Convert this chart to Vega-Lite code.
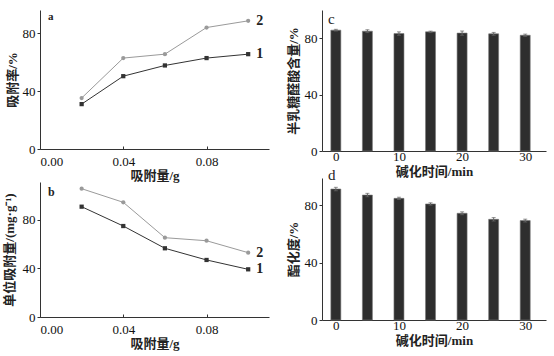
{
  "$schema": "https://vega.github.io/schema/vega-lite/v6.json",
  "padding": {"left": 3, "top": 10, "right": 5, "bottom": 2},
  "background": "white",
  "config": {
    "view": {"stroke": null},
    "font": "Liberation Serif",
    "axis": {
      "grid": false,
      "domainColor": "#333",
      "tickColor": "#333",
      "tickSize": 3,
      "labelFont": "Liberation Serif",
      "labelFontSize": 13,
      "labelColor": "#111",
      "labelPadding": 2,
      "titleFont": "Liberation Serif, Noto Sans CJK SC",
      "titleFontSize": 13,
      "titleFontWeight": "bold",
      "titleColor": "#222"
    },
    "title": {"font": "Liberation Serif", "fontWeight": "bold", "color": "#222", "anchor": "start", "frame": "group"}
  },
  "datasets": {
    "lines": [
      {"panel": "a", "series": "1", "x": 0.02, "y": 31.0},
      {"panel": "a", "series": "1", "x": 0.04, "y": 50.3},
      {"panel": "a", "series": "1", "x": 0.06, "y": 57.7},
      {"panel": "a", "series": "1", "x": 0.08, "y": 62.8},
      {"panel": "a", "series": "1", "x": 0.10, "y": 65.5},
      {"panel": "a", "series": "2", "x": 0.02, "y": 35.2},
      {"panel": "a", "series": "2", "x": 0.04, "y": 62.8},
      {"panel": "a", "series": "2", "x": 0.06, "y": 65.5},
      {"panel": "a", "series": "2", "x": 0.08, "y": 83.9},
      {"panel": "a", "series": "2", "x": 0.10, "y": 88.5},
      {"panel": "b", "series": "1", "x": 0.02, "y": 90.7},
      {"panel": "b", "series": "1", "x": 0.04, "y": 74.8},
      {"panel": "b", "series": "1", "x": 0.06, "y": 56.5},
      {"panel": "b", "series": "1", "x": 0.08, "y": 46.9},
      {"panel": "b", "series": "1", "x": 0.10, "y": 39.2},
      {"panel": "b", "series": "2", "x": 0.02, "y": 105.5},
      {"panel": "b", "series": "2", "x": 0.04, "y": 94.3},
      {"panel": "b", "series": "2", "x": 0.06, "y": 65.2},
      {"panel": "b", "series": "2", "x": 0.08, "y": 62.7},
      {"panel": "b", "series": "2", "x": 0.10, "y": 52.9}
    ],
    "bars": [
      {"panel": "c", "t": 0, "v": 85.7, "err": 0.6},
      {"panel": "c", "t": 5, "v": 85.0, "err": 1.0},
      {"panel": "c", "t": 10, "v": 83.3, "err": 1.2},
      {"panel": "c", "t": 15, "v": 84.5, "err": 0.5},
      {"panel": "c", "t": 20, "v": 83.6, "err": 1.5},
      {"panel": "c", "t": 25, "v": 83.1, "err": 1.0},
      {"panel": "c", "t": 30, "v": 82.1, "err": 0.8},
      {"panel": "d", "t": 0, "v": 91.3, "err": 1.2},
      {"panel": "d", "t": 5, "v": 87.1, "err": 1.2},
      {"panel": "d", "t": 10, "v": 84.8, "err": 0.8},
      {"panel": "d", "t": 15, "v": 80.9, "err": 0.8},
      {"panel": "d", "t": 20, "v": 74.4, "err": 1.0},
      {"panel": "d", "t": 25, "v": 70.2, "err": 1.2},
      {"panel": "d", "t": 30, "v": 69.3, "err": 1.0}
    ]
  },
  "spacing": 18,
  "hconcat": [
    {
      "spacing": -2,
      "vconcat": [
        {
          "width": 229, "height": 139,
          "title": {"text": "a", "fontSize": 11, "offset": -12, "dx": 8},
          "data": {"name": "lines"},
          "transform": [{"filter": "datum.panel === 'a'"}],
          "encoding": {
            "x": {"field": "x", "type": "quantitative", "scale": {"domain": [0, 0.11], "nice": false},
                  "axis": {"values": [0, 0.04, 0.08], "format": ".2f", "title": "吸附量/g", "tickSize": -3, "labelPadding": 9, "titlePadding": 1}},
            "y": {"field": "y", "type": "quantitative", "scale": {"domain": [0, 96], "nice": false},
                  "axis": {"values": [0, 40, 80], "title": "吸附率/%", "titlePadding": 3}},
            "color": {"field": "series", "type": "nominal", "scale": {"domain": ["1", "2"], "range": ["#333333", "#9a9a9a"]}, "legend": null}
          },
          "layer": [
            {"mark": {"type": "line", "strokeWidth": 1}},
            {"mark": {"type": "point", "filled": true, "opacity": 1, "size": 18},
             "encoding": {"shape": {"field": "series", "type": "nominal", "scale": {"domain": ["1", "2"], "range": ["square", "circle"]}, "legend": null}}},
            {"transform": [{"filter": "datum.x === 0.1"}],
             "mark": {"type": "text", "align": "left", "dx": 8, "fontSize": 14, "fontWeight": "bold", "font": "Liberation Serif", "color": "#222"},
             "encoding": {"text": {"field": "series"}, "color": {"value": "#222"}}}
          ]
        },
        {
          "width": 229, "height": 135,
          "title": {"text": "b", "fontSize": 12, "offset": -17, "dx": 8},
          "data": {"name": "lines"},
          "transform": [{"filter": "datum.panel === 'b'"}],
          "encoding": {
            "x": {"field": "x", "type": "quantitative", "scale": {"domain": [0, 0.11], "nice": false},
                  "axis": {"values": [0, 0.04, 0.08], "format": ".2f", "title": "吸附量/g", "tickSize": -3, "labelPadding": 9, "titlePadding": 1}},
            "y": {"field": "y", "type": "quantitative", "scale": {"domain": [0, 111], "nice": false},
                  "axis": {"values": [0, 40, 80], "title": "单位吸附量/(mg·g⁻¹)", "titlePadding": 6}},
            "color": {"field": "series", "type": "nominal", "scale": {"domain": ["1", "2"], "range": ["#333333", "#9a9a9a"]}, "legend": null}
          },
          "layer": [
            {"mark": {"type": "line", "strokeWidth": 1}},
            {"mark": {"type": "point", "filled": true, "opacity": 1, "size": 18},
             "encoding": {"shape": {"field": "series", "type": "nominal", "scale": {"domain": ["1", "2"], "range": ["square", "circle"]}, "legend": null}}},
            {"transform": [{"filter": "datum.x === 0.1"}],
             "mark": {"type": "text", "align": "left", "dx": 8, "fontSize": 14, "fontWeight": "bold", "font": "Liberation Serif", "color": "#222"},
             "encoding": {"text": {"field": "series"}, "color": {"value": "#222"}}}
          ]
        }
      ]
    },
    {
      "spacing": -14,
      "vconcat": [
        {
          "width": 224, "height": 141,
          "title": {"text": "c", "fontSize": 15, "fontWeight": "normal", "offset": -17, "dx": 6},
          "data": {"name": "bars"},
          "transform": [{"filter": "datum.panel === 'c'"}],
          "encoding": {
            "x": {"field": "t", "type": "quantitative", "scale": {"domain": [-1.4, 32.5], "nice": false, "zero": false},
                  "axis": {"values": [0, 10, 20, 30], "title": "碱化时间/min", "tickSize": -3, "labelPadding": 2, "titlePadding": 2}},
            "y": {"field": "v", "type": "quantitative", "scale": {"domain": [0, 100], "nice": false},
                  "axis": {"values": [0, 40, 80], "title": "半乳糖醛酸含量/%", "titlePadding": 4}}
          },
          "layer": [
            {"mark": {"type": "bar", "size": 10, "color": "#2e2e2e", "stroke": "#777", "strokeWidth": 0.6}},
            {"mark": {"type": "errorbar", "ticks": {"size": 4, "color": "#666"}, "color": "#666"},
             "encoding": {"yError": {"field": "err"}}}
          ]
        },
        {
          "width": 224, "height": 142,
          "title": {"text": "d", "fontSize": 15, "fontWeight": "normal", "offset": -5, "dx": 6},
          "data": {"name": "bars"},
          "transform": [{"filter": "datum.panel === 'd'"}],
          "encoding": {
            "x": {"field": "t", "type": "quantitative", "scale": {"domain": [-1.4, 32.5], "nice": false, "zero": false},
                  "axis": {"values": [0, 10, 20, 30], "title": "碱化时间/min", "tickSize": -3, "labelPadding": 2, "titlePadding": 2}},
            "y": {"field": "v", "type": "quantitative", "scale": {"domain": [0, 99], "nice": false},
                  "axis": {"values": [0, 40, 80], "title": "酯化度/%", "titlePadding": 4}}
          },
          "layer": [
            {"mark": {"type": "bar", "size": 10, "color": "#2e2e2e", "stroke": "#777", "strokeWidth": 0.6}},
            {"mark": {"type": "errorbar", "ticks": {"size": 4, "color": "#666"}, "color": "#666"},
             "encoding": {"yError": {"field": "err"}}}
          ]
        }
      ]
    }
  ]
}
